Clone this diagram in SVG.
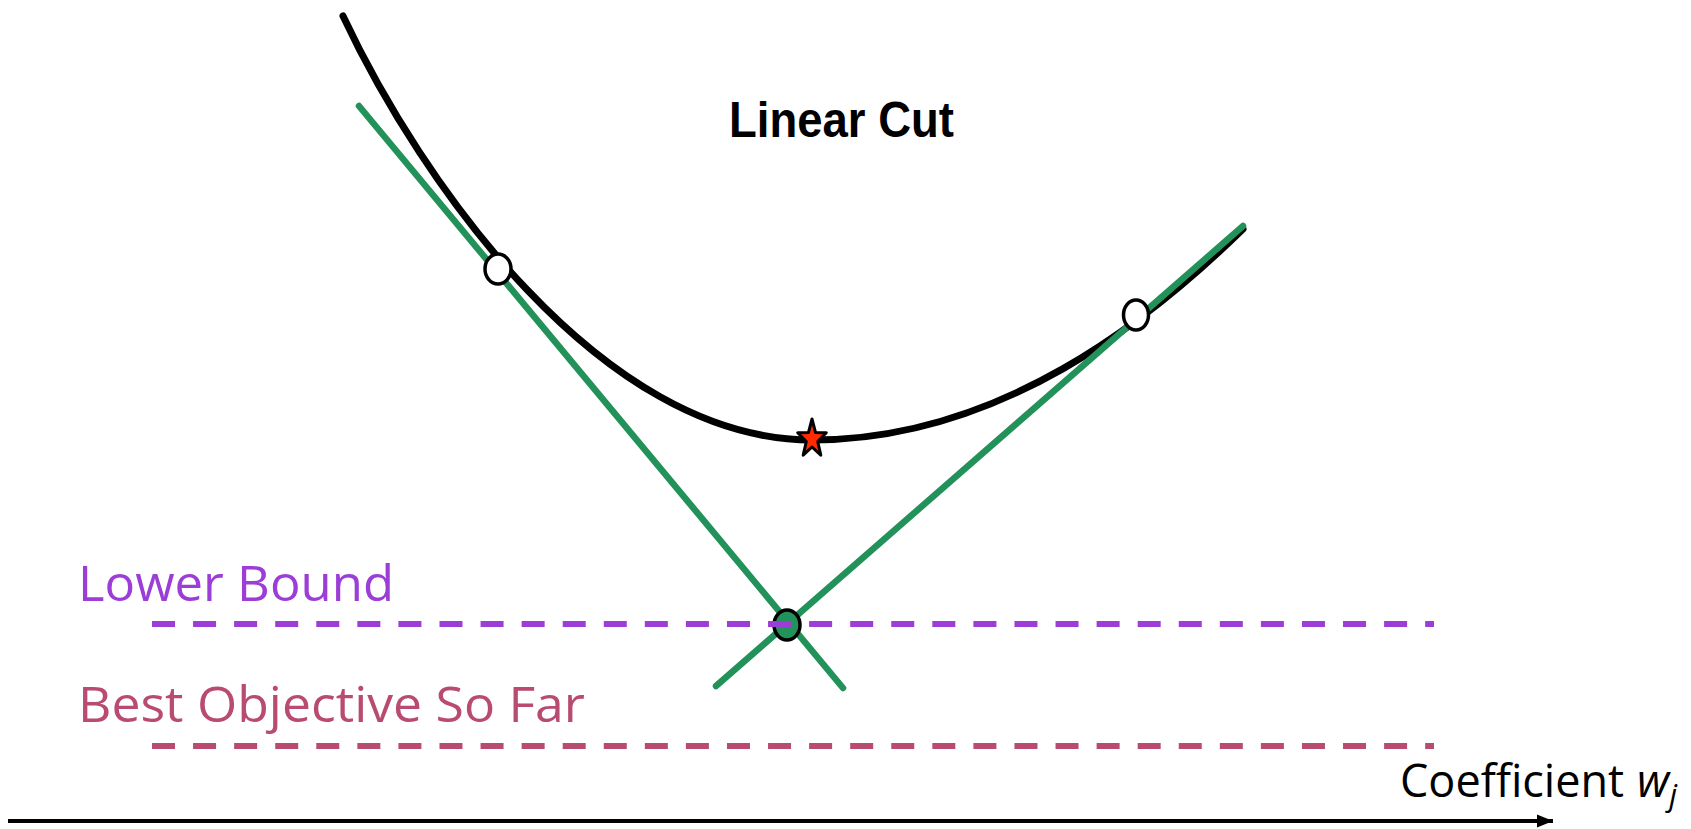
<svg xmlns="http://www.w3.org/2000/svg" width="1691" height="829" viewBox="0 0 1691 829">
<defs>
<style>
.curve{fill:none;stroke:#000;stroke-width:7;stroke-linecap:round}
.cut{fill:none;stroke:#23925A;stroke-width:6.5;stroke-linecap:round}
.pt{fill:#fff;stroke:#000;stroke-width:3.5}
.dash{fill:none;stroke-width:6;stroke-dasharray:23 18.07}
.lbl{font-family:"Open Sans","Noto Sans",sans-serif;font-size:50px}
.ax{font-family:"Open Sans","Noto Sans",sans-serif;font-size:45px;fill:#000}
</style>
<marker id="arr" markerWidth="17" markerHeight="14" refX="16" refY="7" orient="auto" markerUnits="userSpaceOnUse" viewBox="0 0 17 14">
<path d="M0,0.5 L16,7 L0,13.5 z" fill="#000"/>
</marker>
</defs>
<rect width="1691" height="829" fill="#fff"/>
<g id="title"><text x="729" y="137" font-family="Liberation Sans,Arial,sans-serif" font-weight="bold" font-size="50" textLength="225" lengthAdjust="spacingAndGlyphs">Linear Cut</text></g>
<g id="objective-curve"><path class="curve" d="M343,16 C420,180 600,440 812,440 C1000,440 1150,320 1243,229"/></g>
<g id="connectors">
<line class="cut" x1="359" y1="106" x2="843" y2="688"/>
<line class="cut" x1="716" y1="686" x2="1243" y2="226"/>
</g>
<g id="point-left"><ellipse class="pt" cx="498" cy="269" rx="13" ry="15"/></g>
<g id="point-right"><ellipse class="pt" cx="1136" cy="315" rx="12.5" ry="15"/></g>
<g id="intersection"><ellipse cx="787" cy="625" rx="13" ry="15" fill="#23925A" stroke="#000" stroke-width="3.5"/></g>
<g id="optimum"><polygon points="812,419 815.5,432.5 826.3,432.8 817.7,441.5 820.8,455.2 812,447 803.2,455.2 806.3,441.5 797.7,432.8 808.5,432.5" fill="#FF2A00" stroke="#000" stroke-width="3" stroke-linejoin="round"/></g>
<g id="lower-bound">
<line class="dash" x1="152" y1="624" x2="1434" y2="624" stroke="#9B3DD6"/>
<text class="lbl" x="78" y="601" fill="#9B3DD6" textLength="316" lengthAdjust="spacingAndGlyphs">Lower Bound</text>
</g>
<g id="best-objective">
<line class="dash" x1="152" y1="746" x2="1434" y2="746" stroke="#B94A72"/>
<text class="lbl" x="78" y="722" fill="#B94A72" textLength="507" lengthAdjust="spacingAndGlyphs">Best Objective So Far</text>
</g>
<g id="axis">
<line x1="8" y1="821" x2="1553" y2="821" stroke="#000" stroke-width="4" marker-end="url(#arr)"/>
<text class="ax" x="1400" y="797">Coefficient</text>
<text class="ax" x="1637" y="797" font-style="italic">w<tspan font-size="31" dy="9">j</tspan></text>
</g>
</svg>
